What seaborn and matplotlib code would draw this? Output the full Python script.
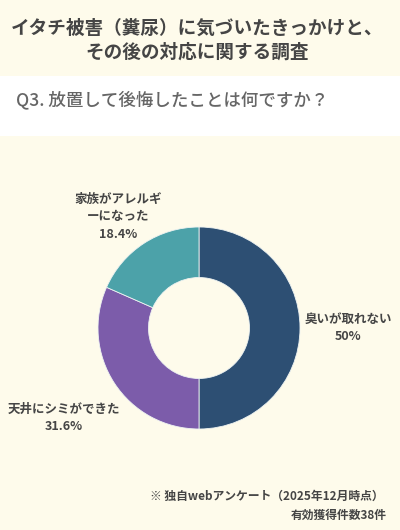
import matplotlib
matplotlib.use("Agg")
import matplotlib.pyplot as plt
import seaborn as sns

# データ
labels = ["臭いが取れない", "天井にシミができた", "家族がアレルギ\nーになった"]
shares = [50.0, 31.6, 18.4]
pct_text = ["50%", "31.6%", "18.4%"]
colors = ["#2d4f73", "#7c5caa", "#4ca2a9"]

title = "イタチ被害（糞尿）に気づいたきっかけと、\nその後の対応に関する調査"
question = "Q3. 放置して後悔したことは何ですか？"
note1 = "※ 独自webアンケート（2025年12月時点）"
note2 = "有効獲得件数38件"

sns.set_theme(style="white")
plt.rcParams['font.family'] = ['Noto Sans CJK JP', 'DejaVu Sans']

bg = "#fefbeb"
text_col = "#454545"

fig = plt.figure(figsize=(4, 5.3), dpi=100)
fig.patch.set_facecolor(bg)

# 帯（白い設問エリア）
band = fig.add_axes([0, 1 - 136 / 530, 1, 60 / 530])
band.set_facecolor("white")
band.set_xticks([])
band.set_yticks([])
for s in band.spines.values():
    s.set_visible(False)

# タイトル
fig.text(0.493, 1 - 40 / 530, title, ha="center", va="center", fontsize=13.4,
         fontweight="bold", color=text_col, linespacing=1.3)
fig.text(0.04, 1 - 100 / 530, question, ha="left", va="center", fontsize=12.6,
         fontweight="medium", color="#666666")

# ドーナツグラフ
ax = fig.add_axes([98 / 400, (530 - 429) / 530, 202 / 400, 202 / 530])
ax.set_facecolor(bg)
ax.pie(shares, colors=colors, startangle=90, counterclock=False,
       wedgeprops=dict(width=0.5, edgecolor="#eef3f2", linewidth=0.6))
ax.set_xlim(-1, 1)
ax.set_ylim(-1, 1)
ax.set_aspect("equal")
ax.axis("off")

label_pos = [(1.48, 0.0), (-1.34, -0.89), (-0.8, 1.1)]
for lab, pct, (x, y) in zip(labels, pct_text, label_pos):
    ax.text(x, y, lab + "\n" + pct, ha="center", va="center", fontsize=9,
            fontweight="bold", color=text_col, linespacing=1.45, clip_on=False)

# 注記
fig.text(384 / 400, 1 - 496 / 530, note1, ha="right", va="center", fontsize=8.5,
         fontweight="bold", color=text_col)
fig.text(387 / 400, 1 - 515 / 530, note2, ha="right", va="center", fontsize=8.5,
         fontweight="bold", color=text_col)

fig.savefig("out.png", dpi=100, facecolor=bg)
